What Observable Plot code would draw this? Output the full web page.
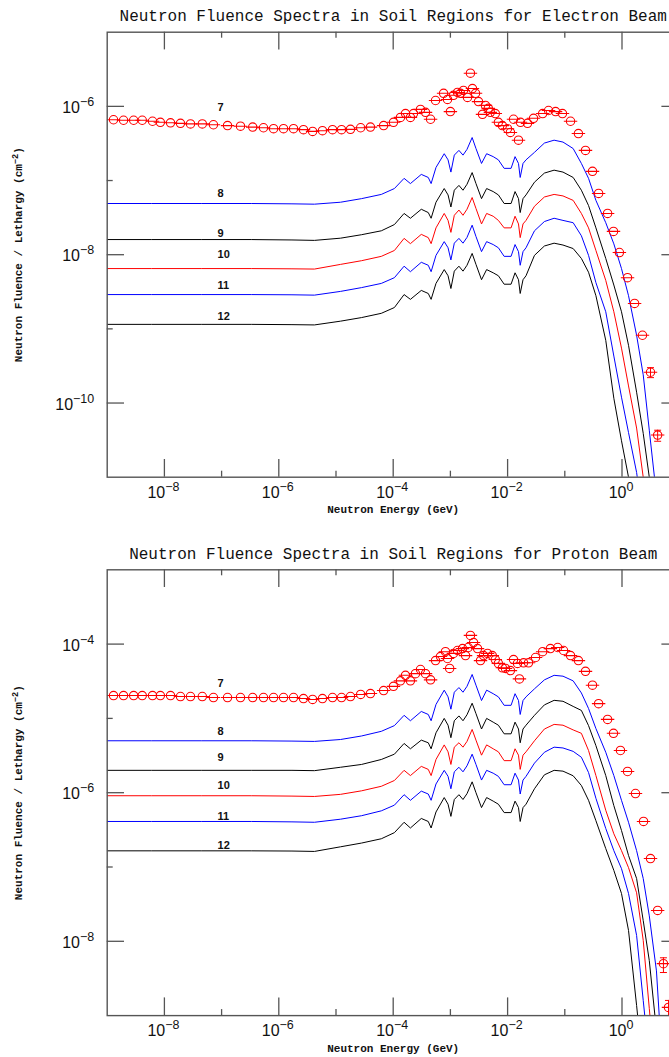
<!DOCTYPE html>
<html><head><meta charset="utf-8">
<script src="https://cdn.jsdelivr.net/npm/d3@7"></script>
<script src="https://cdn.jsdelivr.net/npm/@observablehq/plot@0.6"></script>
<style>
html,body{margin:0;padding:0;background:#fff;overflow:hidden;}
#wrap{position:relative;width:669px;height:1057px;overflow:hidden;background:#fff;}
#wrap svg{position:absolute;left:0;max-width:none;}
</style></head><body><div id="wrap"></div>
<script>
// ---------- shared axis / text data ----------
const titleElectron = "Neutron Fluence Spectra in Soil Regions for Electron Beam";
const titleProton = "Neutron Fluence Spectra in Soil Regions for Proton Beam";
const xAxisLabel = "Neutron Energy (GeV)";
const yAxisLabel = "Neutron Fluence / Lethargy (cm^{−2})";
const xDomain = [1e-9, 10];
const xMajorTicks = [1e-8, 1e-6, 1e-4, 1e-2, 1];
const xMinorTicks = [1e-7, 1e-5, 1e-3, 1e-1];
const xTickLabels = ["10^{−8}", "10^{−6}", "10^{−4}", "10^{−2}", "10^{0}"];
const electronYDomain = [1e-11, 1e-5];
const electronYMajor = [1e-6, 1e-8, 1e-10];
const electronYMinor = [1e-7, 1e-9];
const electronYLabels = ["10^{−6}", "10^{−8}", "10^{−10}"];
const protonYDomain = [1e-9, 1e-3];
const protonYMajor = [1e-4, 1e-6, 1e-8];
const protonYMinor = [1e-5, 1e-7];
const protonYLabels = ["10^{−4}", "10^{−6}", "10^{−8}"];
const regionNames = ["7", "8", "9", "10", "11", "12"];
const regionLabelEnergy = 1e-7;
const electronLabelFluence = [9.7e-7, 6.7e-8, 1.94e-8, 1.0e-8, 3.9e-9, 1.47e-9];
const protonLabelFluence = [2.95e-5, 6.7e-6, 3.0e-6, 1.25e-6, 4.8e-7, 1.95e-7];

// ---------- energy grid of the calculated spectra (GeV) ----------
const energyGrid = [1e-9, 5.9e-9, 4.4e-8, 3.3e-7, 1.7e-6, 4.2e-6, 1.2e-5, 2.8e-5, 6.2e-5, 1.05e-4,
  1.55e-4, 2.0e-4, 3.1e-4, 4.1e-4, 4.6e-4, 5.6e-4, 7.8e-4, 9.1e-4, 1.02e-3, 1.17e-3,
  1.41e-3, 1.66e-3, 1.95e-3, 2.4e-3, 2.8e-3, 3.5e-3, 4.3e-3, 5.6e-3, 6.9e-3, 8.7e-3,
  1.15e-2, 1.35e-2, 1.55e-2, 1.66e-2, 1.86e-2, 2.1e-2, 2.95e-2, 4.4e-2, 6.5e-2, 9.3e-2,
  0.14, 0.195, 0.26, 0.35, 0.52, 0.72, 0.98, 1.3, 1.8, 2.35, 3.0, 4.0, 4.7];

// ---------- electron beam ----------
const electronRegion8 = [4.9e-8, 4.9e-8, 4.9e-8, 4.9e-8, 4.85e-8, 4.8e-8, 5.1e-8, 5.7e-8, 6.5e-8, 7.8e-8,
  1.07e-7, 9.1e-8, 1.21e-7, 1.1e-7, 9.1e-8, 1.5e-7, 2.3e-7, 1.9e-7, 1.3e-7, 2.2e-7,
  2.55e-7, 2.2e-7, 2.63e-7, 3.8e-7, 2.7e-7, 1.7e-7, 2.3e-7, 2.1e-7, 1.9e-7, 1.46e-7,
  1.46e-7, 2.1e-7, 1.7e-7, 1.1e-7, 1.7e-7, 1.9e-7, 2.4e-7, 3.2e-7, 3.5e-7, 3.3e-7,
  2.7e-7, 1.7e-7, 1.07e-7, 5.4e-8, 2.7e-8, 1.4e-8, 6.5e-9, 2.8e-9, 8.2e-10, 2.4e-10,
  4.3e-11, 5.7e-12, 1.4e-12];
const electronRegion9 = [1.6e-8, 1.6e-8, 1.6e-8, 1.6e-8, 1.58e-8, 1.56e-8, 1.67e-8, 1.86e-8, 2.1e-8, 2.55e-8,
  3.6e-8, 3.1e-8, 4.1e-8, 3.7e-8, 3.1e-8, 5.1e-8, 7.8e-8, 6.4e-8, 4.4e-8, 7.4e-8,
  8.6e-8, 7.4e-8, 8.9e-8, 1.28e-7, 9.1e-8, 5.7e-8, 7.8e-8, 7.1e-8, 6.4e-8, 4.9e-8,
  4.9e-8, 7.1e-8, 5.7e-8, 3.7e-8, 5.7e-8, 6.4e-8, 9.5e-8, 1.26e-7, 1.38e-7, 1.3e-7,
  1.1e-7, 7.4e-8, 4.6e-8, 2.3e-8, 8.9e-9, 3.9e-9, 1.7e-9, 6.0e-10, 1.4e-10, 3.9e-11,
  1.0e-11, 1.4e-12, 2.2e-13];
const electronRegion10 = [6.5e-9, 6.5e-9, 6.5e-9, 6.5e-9, 6.45e-9, 6.4e-9, 7.4e-9, 8.3e-9, 9.5e-9, 1.14e-8,
  1.66e-8, 1.41e-8, 1.88e-8, 1.7e-8, 1.41e-8, 2.3e-8, 3.6e-8, 2.9e-8, 2.0e-8, 3.4e-8,
  4.0e-8, 3.4e-8, 4.1e-8, 5.9e-8, 4.2e-8, 2.6e-8, 3.6e-8, 3.3e-8, 2.9e-8, 2.3e-8,
  2.3e-8, 3.3e-8, 2.6e-8, 1.7e-8, 2.6e-8, 2.9e-8, 4.5e-8, 6.0e-8, 6.5e-8, 6.2e-8,
  5.4e-8, 3.6e-8, 2.3e-8, 1.14e-8, 4.5e-9, 1.7e-9, 5.5e-10, 1.7e-10, 4.6e-11, 1.0e-11,
  1.9e-12, 2.2e-13, 3.4e-14];
const electronRegion11 = [2.9e-9, 2.9e-9, 2.9e-9, 2.9e-9, 2.88e-9, 2.85e-9, 3.2e-9, 3.6e-9, 4.1e-9, 4.9e-9,
  7.0e-9, 5.9e-9, 7.9e-9, 7.2e-9, 5.9e-9, 9.8e-9, 1.5e-8, 1.24e-8, 8.5e-9, 1.43e-8,
  1.66e-8, 1.43e-8, 1.71e-8, 2.5e-8, 1.76e-8, 1.1e-8, 1.5e-8, 1.37e-8, 1.24e-8, 9.5e-9,
  9.5e-9, 1.37e-8, 1.1e-8, 7.2e-9, 1.1e-8, 1.24e-8, 2.1e-8, 2.8e-8, 3.1e-8, 2.9e-8,
  2.7e-8, 1.8e-8, 9.8e-9, 4.2e-9, 1.7e-9, 4.3e-10, 1.2e-10, 4.0e-11, 1.16e-11, 2.6e-12,
  5.6e-13, 8.7e-14, 1e-14];
const electronRegion12 = [1.15e-9, 1.15e-9, 1.15e-9, 1.15e-9, 1.14e-9, 1.13e-9, 1.27e-9, 1.42e-9, 1.62e-9, 1.94e-9,
  2.9e-9, 2.5e-9, 3.3e-9, 3.0e-9, 2.5e-9, 4.1e-9, 6.3e-9, 5.2e-9, 3.5e-9, 6.0e-9,
  7.0e-9, 6.0e-9, 7.2e-9, 1.04e-8, 7.4e-9, 4.6e-9, 6.3e-9, 5.7e-9, 5.2e-9, 4.0e-9,
  4.0e-9, 5.7e-9, 4.6e-9, 3.0e-9, 4.6e-9, 5.2e-9, 9.8e-9, 1.31e-8, 1.43e-8, 1.35e-8,
  1.21e-8, 8.9e-9, 5.8e-9, 2.8e-9, 7.0e-10, 1.16e-10, 3.1e-11, 1.0e-11, 1.9e-12, 3.5e-13,
  6.3e-14, 1e-14, 2e-15];
const electronRegion7Energy = [1.29e-9, 1.93e-9, 2.9e-9, 4.1e-9, 6.2e-9, 8.5e-9, 1.28e-8, 1.91e-8, 2.86e-8, 4.6e-8,
  7.2e-8, 1.27e-7, 2.14e-7, 3.5e-7, 5.4e-7, 8.1e-7, 1.21e-6, 1.81e-6, 2.7e-6, 3.9e-6,
  5.8e-6, 8.7e-6, 1.25e-5, 1.79e-5, 2.7e-5, 4.0e-5, 6.8e-5, 1.01e-4, 1.34e-4, 1.64e-4,
  2.0e-4, 2.26e-4, 3.0e-4, 3.67e-4, 4.5e-4, 5.5e-4, 7.6e-4, 8.9e-4, 1.0e-3, 1.13e-3,
  1.33e-3, 1.5e-3, 1.69e-3, 1.99e-3, 2.24e-3, 2.43e-3, 2.75e-3, 3.1e-3, 3.64e-3, 4.1e-3,
  4.6e-3, 5.0e-3, 6.1e-3, 6.9e-3, 8.1e-3, 9.95e-3, 1.12e-2, 1.27e-2, 1.55e-2, 1.68e-2,
  2.23e-2, 2.84e-2, 4.1e-2, 5.2e-2, 6.9e-2, 9.1e-2, 0.126, 0.173, 0.23, 0.305,
  0.39, 0.56, 0.71, 0.90, 1.25, 1.66, 2.28, 3.15, 4.2];
const electronRegion7Fluence = [6.6e-7, 6.5e-7, 6.5e-7, 6.5e-7, 6.3e-7, 6.1e-7, 6.0e-7, 5.9e-7, 5.8e-7, 5.8e-7,
  5.65e-7, 5.5e-7, 5.4e-7, 5.25e-7, 5.15e-7, 5.0e-7, 5.0e-7, 5.0e-7, 4.85e-7, 4.6e-7,
  4.7e-7, 4.85e-7, 4.85e-7, 4.9e-7, 5.15e-7, 5.25e-7, 5.5e-7, 6.1e-7, 7.1e-7, 8.0e-7,
  7.1e-7, 8.0e-7, 9.1e-7, 8.3e-7, 6.7e-7, 1.2e-6, 1.5e-6, 1.24e-6, 8.5e-7, 1.41e-6,
  1.54e-6, 1.5e-6, 1.64e-6, 1.32e-6, 2.8e-6, 1.74e-6, 1.5e-6, 1.16e-6, 7.8e-7, 1.03e-6,
  9.4e-7, 8.3e-7, 8.0e-7, 6.1e-7, 5.5e-7, 5.0e-7, 4.45e-7, 6.7e-7, 3.5e-7, 6.1e-7,
  5.9e-7, 6.9e-7, 8.0e-7, 8.8e-7, 8.5e-7, 8.0e-7, 6.3e-7, 4.3e-7, 2.55e-7, 1.33e-7,
  6.7e-8, 3.6e-8, 2.06e-8, 1.07e-8, 4.9e-9, 2.2e-9, 8.2e-10, 2.6e-10, 3.7e-11];
const electronErrEnergy = [3.15, 4.2];
const electronErrLow = [2.2e-10, 3.05e-11];
const electronErrHigh = [3.0e-10, 4.3e-11];

// ---------- proton beam ----------
const protonRegion8 = [5.0e-6, 5.0e-6, 5.0e-6, 5.0e-6, 4.95e-6, 4.9e-6, 5.2e-6, 5.8e-6, 6.7e-6, 8.0e-6,
  1.1e-5, 9.3e-6, 1.24e-5, 1.13e-5, 9.3e-6, 1.54e-5, 2.4e-5, 1.95e-5, 1.33e-5, 2.25e-5,
  2.6e-5, 2.25e-5, 2.7e-5, 3.9e-5, 2.8e-5, 1.74e-5, 2.4e-5, 2.15e-5, 1.95e-5, 1.5e-5,
  1.5e-5, 2.15e-5, 1.74e-5, 1.13e-5, 1.74e-5, 1.95e-5, 2.5e-5, 3.3e-5, 3.8e-5, 3.7e-5,
  3.2e-5, 2.2e-5, 1.36e-5, 7.3e-6, 3.5e-6, 1.7e-6, 7.9e-7, 4.0e-7, 1.66e-7, 7.0e-8,
  2.2e-8, 4.0e-9, 5.4e-10];
const protonRegion9 = [2.0e-6, 2.0e-6, 2.0e-6, 2.0e-6, 2.0e-6, 1.98e-6, 2.2e-6, 2.4e-6, 2.8e-6, 3.3e-6,
  4.6e-6, 3.9e-6, 5.1e-6, 4.7e-6, 3.9e-6, 6.4e-6, 1.0e-5, 8.1e-6, 5.5e-6, 9.3e-6,
  1.08e-5, 9.3e-6, 1.12e-5, 1.6e-5, 1.16e-5, 7.2e-6, 1.0e-5, 8.9e-6, 8.1e-6, 6.2e-6,
  6.2e-6, 8.9e-6, 7.2e-6, 4.7e-6, 7.2e-6, 8.1e-6, 1.1e-5, 1.52e-5, 1.75e-5, 1.7e-5,
  1.45e-5, 1.28e-5, 8.0e-6, 4.3e-6, 1.7e-6, 6.7e-7, 3.1e-7, 1.43e-7, 7.0e-8, 1.9e-8,
  5.5e-9, 6.3e-10, 1.3e-10];
const protonRegion10 = [9.1e-7, 9.1e-7, 9.1e-7, 9.1e-7, 9.0e-7, 8.9e-7, 9.5e-7, 1.06e-6, 1.22e-6, 1.46e-6,
  2.0e-6, 1.7e-6, 2.26e-6, 2.06e-6, 1.7e-6, 2.8e-6, 4.4e-6, 3.55e-6, 2.4e-6, 4.1e-6,
  4.7e-6, 4.1e-6, 4.9e-6, 7.1e-6, 5.1e-6, 3.2e-6, 4.4e-6, 3.9e-6, 3.55e-6, 2.7e-6,
  2.7e-6, 3.9e-6, 3.2e-6, 2.06e-6, 3.2e-6, 3.55e-6, 5.0e-6, 7.2e-6, 8.3e-6, 8.1e-6,
  7.0e-6, 6.3e-6, 3.7e-6, 1.7e-6, 5.8e-7, 2.8e-7, 1.66e-7, 9.8e-8, 4.5e-8, 1.03e-8,
  1.25e-9, 1.0e-10, 1.3e-11];
const protonRegion11 = [4.1e-7, 4.1e-7, 4.1e-7, 4.1e-7, 4.05e-7, 4.0e-7, 4.4e-7, 4.9e-7, 5.7e-7, 6.8e-7,
  9.4e-7, 7.9e-7, 1.05e-6, 9.6e-7, 7.9e-7, 1.31e-6, 2.0e-6, 1.66e-6, 1.13e-6, 1.91e-6,
  2.2e-6, 1.91e-6, 2.3e-6, 3.3e-6, 2.4e-6, 1.48e-6, 2.0e-6, 1.83e-6, 1.66e-6, 1.28e-6,
  1.28e-6, 1.83e-6, 1.48e-6, 9.6e-7, 1.48e-6, 1.66e-6, 2.5e-6, 3.5e-6, 4.1e-6, 4.0e-6,
  3.6e-6, 3.0e-6, 1.87e-6, 8.4e-7, 3.3e-7, 1.66e-7, 9.5e-8, 4.4e-8, 1.2e-8, 1.6e-9,
  2.5e-10, 2.1e-11, 2e-12];
const protonRegion12 = [1.65e-7, 1.65e-7, 1.65e-7, 1.65e-7, 1.64e-7, 1.62e-7, 1.87e-7, 2.1e-7, 2.4e-7, 2.9e-7,
  4.0e-7, 3.35e-7, 4.5e-7, 4.1e-7, 3.35e-7, 5.5e-7, 8.6e-7, 7.0e-7, 4.8e-7, 8.1e-7,
  9.4e-7, 8.1e-7, 9.7e-7, 1.4e-6, 1.0e-6, 6.3e-7, 8.6e-7, 7.7e-7, 7.0e-7, 5.4e-7,
  5.4e-7, 7.7e-7, 6.3e-7, 4.1e-7, 6.3e-7, 7.0e-7, 1.13e-6, 1.74e-6, 2.0e-6, 1.95e-6,
  1.69e-6, 1.25e-6, 7.9e-7, 4.2e-7, 1.77e-7, 9.0e-8, 4.4e-8, 1.4e-8, 1.37e-9, 1.8e-10,
  2.8e-11, 3e-12, 5e-13];
const protonRegion7Energy = [1.29e-9, 1.93e-9, 2.9e-9, 4.1e-9, 6.2e-9, 8.5e-9, 1.28e-8, 1.91e-8, 2.86e-8, 4.6e-8,
  7.2e-8, 1.27e-7, 2.14e-7, 3.5e-7, 5.4e-7, 8.1e-7, 1.21e-6, 1.81e-6, 2.7e-6, 3.9e-6,
  5.8e-6, 8.7e-6, 1.25e-5, 1.79e-5, 2.7e-5, 4.0e-5, 6.8e-5, 1.01e-4, 1.34e-4, 1.64e-4,
  2.0e-4, 2.45e-4, 3.0e-4, 3.67e-4, 4.5e-4, 5.5e-4, 6.7e-4, 8.2e-4, 8.9e-4, 9.7e-4,
  1.13e-3, 1.33e-3, 1.63e-3, 1.84e-3, 2.05e-3, 2.24e-3, 2.54e-3, 2.98e-3, 3.36e-3, 3.8e-3,
  4.46e-3, 5.4e-3, 6.1e-3, 6.9e-3, 8.1e-3, 9.2e-3, 1.12e-2, 1.27e-2, 1.49e-2, 1.61e-2,
  1.9e-2, 2.32e-2, 3.08e-2, 4.1e-2, 5.6e-2, 7.5e-2, 9.5e-2, 0.126, 0.173, 0.23,
  0.305, 0.39, 0.56, 0.71, 0.94, 1.25, 1.72, 2.38, 3.15, 4.2,
  5.3, 6.5];
const protonRegion7Fluence = [2.03e-5, 2.03e-5, 2.03e-5, 2.03e-5, 2.03e-5, 2.03e-5, 2.03e-5, 1.97e-5, 1.97e-5, 1.97e-5,
  1.91e-5, 1.91e-5, 1.91e-5, 1.91e-5, 1.91e-5, 1.91e-5, 1.91e-5, 1.91e-5, 1.85e-5, 1.8e-5,
  1.85e-5, 1.91e-5, 1.91e-5, 1.97e-5, 2.1e-5, 2.16e-5, 2.37e-5, 2.7e-5, 3.2e-5, 3.8e-5,
  3.2e-5, 4.0e-5, 4.55e-5, 4.0e-5, 3.3e-5, 6.0e-5, 6.8e-5, 7.9e-5, 6.4e-5, 4.7e-5,
  7.5e-5, 8.2e-5, 8.7e-5, 7.0e-5, 9.0e-5, 1.31e-4, 1.05e-4, 8.7e-5, 6.0e-5, 7.0e-5,
  7.5e-5, 7.0e-5, 6.2e-5, 5.5e-5, 4.8e-5, 4.7e-5, 4.4e-5, 6.2e-5, 5.5e-5, 3.4e-5,
  5.6e-5, 5.6e-5, 6.6e-5, 7.9e-5, 8.7e-5, 9.0e-5, 8.2e-5, 7.0e-5, 6.0e-5, 4.3e-5,
  2.8e-5, 1.58e-5, 9.7e-6, 6.3e-6, 3.7e-6, 1.93e-6, 9.75e-7, 4.1e-7, 1.3e-7, 2.6e-8,
  5.0e-9, 1.29e-9];
const protonErrEnergy = [5.3, 6.5];
const protonErrLow = [3.8e-9, 1.0e-9];
const protonErrHigh = [6.0e-9, 1.6e-9];

// ---------- drawing ----------
const NS = "http://www.w3.org/2000/svg";
const circleBar = {draw(ctx, size) {
  const r = Math.sqrt(size / Math.PI);
  ctx.moveTo(r, 0); ctx.arc(0, 0, r, 0, 2 * Math.PI);
  ctx.moveTo(-1.6 * r, 0); ctx.lineTo(1.6 * r, 0);
}};
const capBar = {draw(ctx, size) {
  const r = Math.sqrt(size / Math.PI);
  ctx.moveTo(-r, 0); ctx.lineTo(r, 0);
}};

function supify(svg) {
  svg.querySelectorAll("text").forEach(t => {
    const s = t.textContent;
    if (!s.includes("^{")) return;
    const parts = s.split(/(\^\{[^}]*\})/).filter(p => p.length);
    t.textContent = "";
    let prevSup = false;
    parts.forEach(p => {
      const ts = document.createElementNS(NS, "tspan");
      if (p.startsWith("^{")) {
        ts.textContent = p.slice(2, -1);
        ts.setAttribute("font-size", "78%");
        ts.setAttribute("dy", "-0.55em");
        prevSup = true;
      } else {
        ts.textContent = p;
        if (prevSup) ts.setAttribute("dy", "0.429em");
        prevSup = false;
      }
      t.appendChild(ts);
    });
  });
}

const axisColor = "#555";
const seriesColors = {"8": "blue", "9": "black", "10": "red", "11": "blue", "12": "black"};

function panel(cfg) {
  const W = 690, mL = 106.7, mR = 11.3;
  const fh = cfg.height - cfg.marginTop - cfg.marginBottom;
  const fw = W - mL - mR;
  const lines = cfg.regions.map(([name, vals]) =>
    Plot.line(energyGrid.map((E, i) => ({E, F: vals[i]})),
      {x: "E", y: "F", stroke: seriesColors[name], strokeWidth: 1, clip: true}));
  const pts = cfg.e7.map((E, i) => ({E, F: cfg.f7[i]}));
  const errs = cfg.errE.map((E, i) => ({E, lo: cfg.errLo[i], hi: cfg.errHi[i]}));
  const labs = regionNames.map((n, i) => ({E: regionLabelEnergy, F: cfg.labelF[i], n}));
  const svg = Plot.plot({
    width: W, height: cfg.height,
    marginLeft: mL, marginRight: mR, marginTop: cfg.marginTop, marginBottom: cfg.marginBottom,
    x: {type: "log", domain: xDomain, axis: null},
    y: {type: "log", domain: cfg.yDomain, axis: null},
    style: {fontFamily: "Liberation Sans, sans-serif", background: "white", overflow: "visible"},
    marks: [
      ...lines,
      Plot.ruleX(errs, {x: "E", y1: "lo", y2: "hi", stroke: "red", strokeWidth: 1, clip: true}),
      Plot.dot(errs, {x: "E", y: "lo", symbol: capBar, r: 3.5, stroke: "red", strokeWidth: 1, clip: true}),
      Plot.dot(errs, {x: "E", y: "hi", symbol: capBar, r: 3.5, stroke: "red", strokeWidth: 1, clip: true}),
      Plot.dot(pts, {x: "E", y: "F", symbol: circleBar, r: 4.2, stroke: "red", fill: "none", strokeWidth: 1.1, clip: true}),
      // ticks (inward on all four sides)
      Plot.tickX(xMajorTicks, {x: d => d, insetTop: fh - 17.7, stroke: axisColor, strokeWidth: 1.3}),
      Plot.tickX(xMajorTicks, {x: d => d, insetBottom: fh - 17.7, stroke: axisColor, strokeWidth: 1.3}),
      Plot.tickX(xMinorTicks, {x: d => d, insetTop: fh - 6, stroke: axisColor, strokeWidth: 1.3}),
      Plot.tickX(xMinorTicks, {x: d => d, insetBottom: fh - 6, stroke: axisColor, strokeWidth: 1.3}),
      Plot.tickY(cfg.yMajor, {y: d => d, insetRight: fw - 17.3, stroke: axisColor, strokeWidth: 1.3}),
      Plot.tickY(cfg.yMajor, {y: d => d, insetLeft: fw - 17.3, stroke: axisColor, strokeWidth: 1.3}),
      Plot.tickY(cfg.yMinor, {y: d => d, insetRight: fw - 6, stroke: axisColor, strokeWidth: 1.3}),
      Plot.tickY(cfg.yMinor, {y: d => d, insetLeft: fw - 6, stroke: axisColor, strokeWidth: 1.3}),
      Plot.frame({stroke: axisColor, strokeWidth: 1.4}),
      // tick labels
      Plot.text(xMajorTicks, {x: d => d, text: (d, i) => xTickLabels[i], frameAnchor: "bottom",
        textAnchor: "middle", lineAnchor: "middle", dy: 15.5, dx: -1,
        fontSize: 16, fill: "#111", letterSpacing: "0.6px"}),
      Plot.text(cfg.yMajor, {y: d => d, text: (d, i) => cfg.yLabels[i], frameAnchor: "left", textAnchor: "end",
        lineAnchor: "middle", dx: -13, dy: 1.5, fontSize: 16, fill: "#111", letterSpacing: "0.6px"}),
      // region labels
      Plot.text(labs, {x: "E", y: "F", text: "n", textAnchor: "start", lineAnchor: "middle", dx: -4,
        fontSize: 11, fontWeight: "bold", fontFamily: "Liberation Sans, sans-serif", fill: "#111"}),
      // titles and axis names
      Plot.text([cfg.title], {frameAnchor: "top", textAnchor: "middle", lineAnchor: "middle", dy: -16.2,
        fontSize: 16, fontFamily: "Liberation Mono, monospace", fill: "#111"}),
      Plot.text([xAxisLabel], {frameAnchor: "bottom", textAnchor: "middle", lineAnchor: "middle", dy: 32.5,
        fontSize: 11, fontWeight: "bold", fontFamily: "Liberation Mono, monospace", fill: "#111"}),
      Plot.text([yAxisLabel], {frameAnchor: "left", textAnchor: "middle", lineAnchor: "middle", rotate: -90, dx: -88.5,
        fontSize: 11, fontWeight: "bold", fontFamily: "Liberation Mono, monospace", fill: "#111"})
    ]
  });
  supify(svg);
  svg.style.top = cfg.top + "px";
  document.getElementById("wrap").appendChild(svg);
}

panel({
  top: 0, height: 530, marginTop: 31.7, marginBottom: 53.3,
  yDomain: electronYDomain, yMajor: electronYMajor, yMinor: electronYMinor, yLabels: electronYLabels,
  title: titleElectron,
  regions: [["8", electronRegion8], ["9", electronRegion9], ["10", electronRegion10], ["11", electronRegion11], ["12", electronRegion12]],
  e7: electronRegion7Energy, f7: electronRegion7Fluence,
  errE: electronErrEnergy, errLo: electronErrLow, errHi: electronErrHigh,
  labelF: electronLabelFluence
});
panel({
  top: 530, height: 527, marginTop: 39.3, marginBottom: 41.9,
  yDomain: protonYDomain, yMajor: protonYMajor, yMinor: protonYMinor, yLabels: protonYLabels,
  title: titleProton,
  regions: [["8", protonRegion8], ["9", protonRegion9], ["10", protonRegion10], ["11", protonRegion11], ["12", protonRegion12]],
  e7: protonRegion7Energy, f7: protonRegion7Fluence,
  errE: protonErrEnergy, errLo: protonErrLow, errHi: protonErrHigh,
  labelF: protonLabelFluence
});
</script>
</body></html>
